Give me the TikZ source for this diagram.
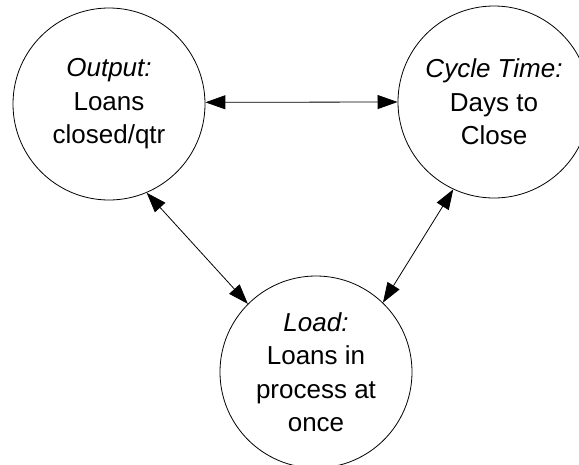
\documentclass[tikz,border=0pt]{standalone}
\usepackage{fontspec}
\setmainfont{Liberation Sans}
\usetikzlibrary{arrows.meta}
\begin{document}
\begin{tikzpicture}[x=1pt,y=-1pt,
  measure/.style={circle, draw, line width=0.8pt, minimum size=192pt,
    inner sep=0pt, align=center, font=\fontsize{26}{33.5}\selectfont},
  link/.style={line width=0.8pt,
    {Triangle[length=20pt,width=14pt]}-{Triangle[length=20pt,width=14pt]}}]
  \useasboundingbox (0,0) rectangle (579,464);

  % the three measures
  \node[measure] (output) at (109,104) {\textit{Output:}\\Loans\\closed/qtr};
  \node[measure] (cycle)  at (494,102) {\textit{Cycle Time:}\\Days to\\Close};
  \node[measure] (load)   at (316,372) {\textit{Load:}\\Loans in\\process at\\once};

  % two-way relations between them
  \draw[link] (output.1)   -- (cycle.180);
  \draw[link] (output.293.6) -- (load.135.2);
  \draw[link] (cycle.245)  -- (load.46.3);
\end{tikzpicture}
\end{document}
